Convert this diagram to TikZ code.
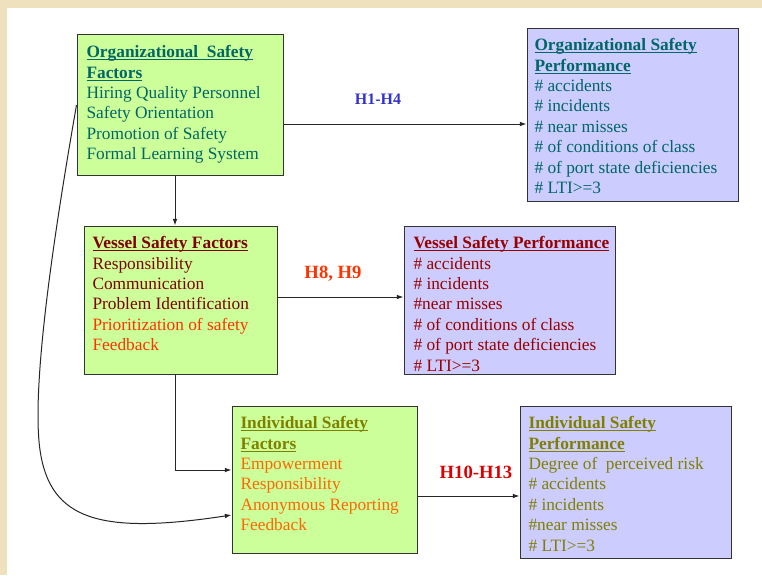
\documentclass[tikz,border=0pt]{standalone}
\usepackage{fontspec}
\setmainfont{Liberation Serif}
\usetikzlibrary{arrows.meta,fit,shadows}

\definecolor{pagebg}{RGB}{239,225,190}
\definecolor{facfill}{RGB}{204,255,153}
\definecolor{perffill}{RGB}{204,204,255}
\definecolor{orgtxt}{RGB}{0,102,102}
\definecolor{vestxt}{RGB}{128,0,0}
\definecolor{vesperf}{RGB}{153,0,0}
\definecolor{hottxt}{RGB}{255,51,0}
\definecolor{indtxt}{RGB}{128,128,0}
\definecolor{indfac}{RGB}{255,102,0}
\definecolor{hblue}{RGB}{51,51,204}
\definecolor{hred}{RGB}{221,0,0}

\newcommand{\ttl}[1]{\setbox0\hbox{\bfseries #1}\rlap{\rule[-1.8pt]{\wd0}{0.7pt}}\box0}

\tikzset{every picture/.style={line width=0.75pt}}
\tikzset{
  box/.style={draw=black!80, inner sep=0pt,
    drop shadow={shadow xshift=1pt, shadow yshift=-1pt, fill=black!45, opacity=1}},
  facbox/.style={box, fill=facfill},
  perfbox/.style={box, fill=perffill},
  boxtext/.style={anchor=north west, inner sep=0pt, align=left,
    font=\fontsize{13}{15.3}\selectfont},
  hlabel/.style={font=\bfseries\fontsize{14}{16}\selectfont},
  arr/.style={draw=black!85, -{Latex[length=5pt,width=3.5pt]}}
}

\begin{document}
\begin{tikzpicture}[x=0.75pt,y=0.75pt,yscale=-1,xscale=1]
	%page
	\fill[pagebg] (0,0) rectangle (762,575);
	\fill[white] (7,8) rectangle (762,575);

	%Boxes
	\node[facbox, fit={(77,34) (283,175)}] (osf) {};
	\node[perfbox, fit={(527,28) (738,201)}] (osp) {};
	\node[facbox, fit={(84,226) (277,374)}] (vsf) {};
	\node[perfbox, fit={(404,226) (615,374)}] (vsp) {};
	\node[facbox, fit={(232,406) (417,553)}] (isf) {};
	\node[perfbox, fit={(520,406) (731,558)}] (isp) {};

	% Text Node
	\node[boxtext, text=orgtxt] (osf-t) at (86,45) {\ttl{Organizational\ \ Safety}\\ \ttl{Factors}\\
		Hiring Quality Personnel\\ Safety Orientation\\ Promotion of Safety\\ Formal Learning System};
	% Text Node
	\node[boxtext, text=orgtxt] (osp-t) at (534,38) {\ttl{Organizational Safety}\\ \ttl{Performance}\\
		\# accidents\\ \# incidents\\ \# near misses\\ \# of conditions of class\\
		\# of port state deficiencies\\ \# LTI>=3};
	% Text Node
	\node[boxtext, text=vestxt] (vsf-t) at (92,236) {\ttl{Vessel Safety Factors}\\ Responsibility\\
		Communication\\ Problem Identification\\ {\color{hottxt}Prioritization of safety}\\
		{\color{hottxt}Feedback}};
	% Text Node
	\node[boxtext, text=vesperf] (vsp-t) at (413,236) {\ttl{Vessel Safety Performance}\\
		\# accidents\\ \# incidents\\ \#near misses\\ \# of conditions of class\\
		\# of port state deficiencies\\ \# LTI>=3};
	% Text Node
	\node[boxtext, text=indfac] (isf-t) at (240,416) {{\color{indtxt}\ttl{Individual Safety}}\\
		{\color{indtxt}\ttl{Factors}}\\ Empowerment\\ Responsibility\\ Anonymous Reporting\\ Feedback};
	% Text Node
	\node[boxtext, text=indtxt] (isp-t) at (528,416) {\ttl{Individual Safety}\\ \ttl{Performance}\\
		Degree of\ \ perceived risk\\ \# accidents\\ \# incidents\\ \#near misses\\ \# LTI>=3};

	% Hypothesis labels
	\node[hlabel, font=\bfseries\fontsize{12}{14}\selectfont, text=hblue] (h1) at (378,99) {H1-H4};
	\node[hlabel, text=hottxt] (h8) at (333,274) {H8, H9};
	\node[hlabel, text=hred] (h10) at (476,472) {H10-H13};

	%Connectors
	\coordinate (ya) at (0,124);
	\coordinate (yb) at (0,297);
	\coordinate (yc) at (0,470);
	\coordinate (yd) at (0,496);
	\coordinate (ye) at (0,105);
	\coordinate (yf) at (0,515);
	\coordinate (xa) at (175,0);
	\draw[arr] (osf.east |- ya) -- (osp.west |- ya);
	\draw[arr] (osf.south -| xa) -- (vsf.north -| xa);
	\draw[arr] (vsf.east |- yb) -- (vsp.west |- yb);
	\draw[arr] (vsf.south -| xa) |- (isf.west |- yc);
	\draw[arr] (isf.east |- yd) -- (isp.west |- yd);
	\draw[arr] (osf.west |- ye) .. controls (60,200) and (30,380) .. (40,450) .. controls (50,520) and (100,535) .. (isf.west |- yf);
\end{tikzpicture}
\end{document}
